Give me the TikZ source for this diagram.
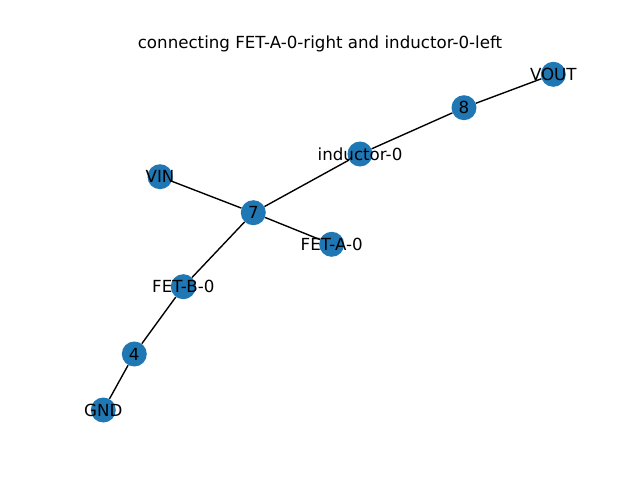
\documentclass[tikz,border=0pt]{standalone}
\usepackage{fontspec}
\setmainfont{DejaVu Sans}
\usepackage{tikz}
\definecolor{nodeblue}{RGB}{31,119,180}

\begin{document}
\begin{tikzpicture}[x=0.72pt,y=0.72pt]
\tikzstyle{every node}+=[inner sep=0pt,font=\fontsize{12}{14}\selectfont]
\tikzstyle{vertex}=[circle,fill=nodeblue,minimum size=18pt]
\tikzstyle{edge}=[black,line width=1pt]
\useasboundingbox (0,0) rectangle (640,-480);
\draw (320,-44) node {connecting FET-A-0-right and inductor-0-left};
\node [vertex] (vout) at (553.3,-74.3) {};
\node [vertex] (n8) at (464,-107.7) {};
\node [vertex] (ind) at (360,-154) {};
\node [vertex] (vin) at (160,-176.7) {};
\node [vertex] (n7) at (253.3,-212.7) {};
\node [vertex] (feta) at (331.7,-244.3) {};
\node [vertex] (fetb) at (183.3,-286.7) {};
\node [vertex] (n4) at (134.3,-354) {};
\node [vertex] (gnd) at (103.3,-410) {};
\draw [edge] (vout) -- (n8);
\draw [edge] (n8) -- (ind);
\draw [edge] (ind) -- (n7);
\draw [edge] (vin) -- (n7);
\draw [edge] (n7) -- (feta);
\draw [edge] (n7) -- (fetb);
\draw [edge] (fetb) -- (n4);
\draw [edge] (n4) -- (gnd);
\draw (vout) node {VOUT};
\draw (n8) node {8};
\draw (ind) node {inductor-0};
\draw (vin) node {VIN};
\draw (n7) node {7};
\draw (feta) node {FET-A-0};
\draw (fetb) node {FET-B-0};
\draw (n4) node {4};
\draw (gnd) node {GND};
\end{tikzpicture}
\end{document}
